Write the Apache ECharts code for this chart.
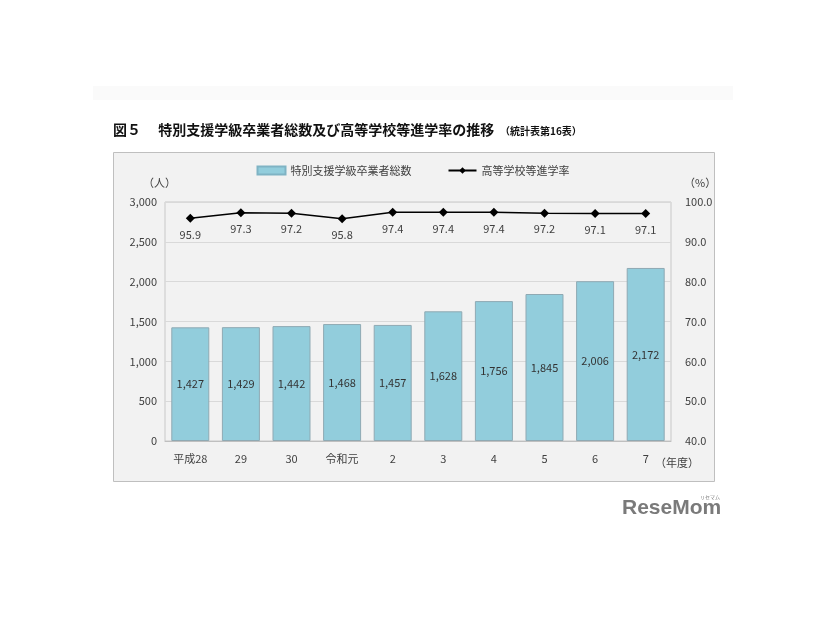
<!DOCTYPE html>
<html><head><meta charset="utf-8">
<script src="https://cdn.jsdelivr.net/npm/echarts@6/dist/echarts.min.js"></script>
<style>html,body{margin:0;padding:0;background:#fff}#c{width:826px;height:620px}</style>
</head><body><div id="c"></div>
<script>
const categories = ['平成28','29','30','令和元','2','3','4','5','6','7'];
const graduates = [1427,1429,1442,1468,1457,1628,1756,1845,2006,2172];
const rate = [95.9,97.3,97.2,95.8,97.4,97.4,97.4,97.2,97.1,97.1];
const leftTicks = [0,500,1000,1500,2000,2500,3000];
const rightTicks = [40,50,60,70,80,90,100];
const FONT = '"Noto Sans CJK JP","Noto Sans",sans-serif';

const chart = echarts.init(document.getElementById('c'));
chart.setOption({
  animation:false,
  backgroundColor:'#ffffff',
  textStyle:{fontFamily:FONT},
  graphic:[
    {type:'rect',shape:{x:93,y:86,width:640,height:14},style:{fill:'#fafafa'},z:-10},
    {type:'rect',shape:{x:113.5,y:152.5,width:601,height:329},style:{fill:'#f2f2f2',stroke:'#bfbfbf',lineWidth:1},z:-9},
    {type:'text',left:113,top:123,style:{text:'図５　 特別支援学級卒業者総数及び高等学校等進学率の推移',font:'bold 14px '+FONT,fill:'#111'}},
    {type:'text',left:500,top:126,style:{text:'（統計表第16表）',font:'bold 10px '+FONT,fill:'#111'}},
    {type:'text',left:143,top:177,style:{text:'（人）',font:'11px '+FONT,fill:'#404040'}},
    {type:'text',left:684,top:177,style:{text:'（%）',font:'11px '+FONT,fill:'#404040'}},
    {type:'text',left:655,top:457,style:{text:'（年度）',font:'11px '+FONT,fill:'#404040'}},
    {type:'text',left:622,top:498,style:{text:'ReseMom',font:'bold 21px "Liberation Sans",sans-serif',fill:'#7a7a7a'}},
    {type:'text',left:700,top:495,style:{text:'リセマム',font:'5px '+FONT,fill:'#7a7a7a'}}
  ],
  legend:{
    top:160,left:'center',itemGap:36,
    textStyle:{fontSize:11,color:'#404040',fontFamily:FONT},
    data:[
      {name:'特別支援学級卒業者総数',icon:'rect',itemStyle:{color:'#92cddc',borderColor:'#7fb3c4'}},
      {name:'高等学校等進学率'}
    ],
    itemWidth:28,itemHeight:8
  },
  grid:{left:165,right:155,top:202,bottom:179,containLabel:false,show:true,borderColor:'#c8c8c8',borderWidth:1,backgroundColor:'#f2f2f2'},
  xAxis:{
    type:'category',data:categories,
    axisLine:{show:true,lineStyle:{color:'#bfbfbf'}},
    axisTick:{show:false},
    axisLabel:{color:'#404040',fontSize:11,margin:12}
  },
  yAxis:[
    {type:'value',min:0,max:3000,interval:500,
     axisLabel:{color:'#404040',fontSize:11,formatter:v=>v.toLocaleString('en-US')},
     axisLine:{show:false},axisTick:{show:false},
     splitLine:{lineStyle:{color:'#d9d9d9'}}},
    {type:'value',min:40,max:100,interval:10,position:'right',
     axisLabel:{color:'#404040',fontSize:11,margin:14,formatter:v=>v.toFixed(1)},
     axisLine:{show:false},axisTick:{show:false},splitLine:{show:false}}
  ],
  series:[
    {name:'特別支援学級卒業者総数',type:'bar',data:graduates,barWidth:38,
     itemStyle:{color:'#92cddc',borderColor:'#8fa9b3',borderWidth:1},
     label:{show:true,position:'inside',color:'#333',fontSize:11,formatter:p=>p.value.toLocaleString('en-US')}},
    {name:'高等学校等進学率',type:'line',yAxisIndex:1,data:rate,
     symbol:'diamond',symbolSize:9,
     lineStyle:{color:'#000',width:1.5},itemStyle:{color:'#000'},
     label:{show:true,position:'bottom',distance:6,color:'#404040',fontSize:11,formatter:p=>p.value.toFixed(1)}}
  ]
});
</script></body></html>
